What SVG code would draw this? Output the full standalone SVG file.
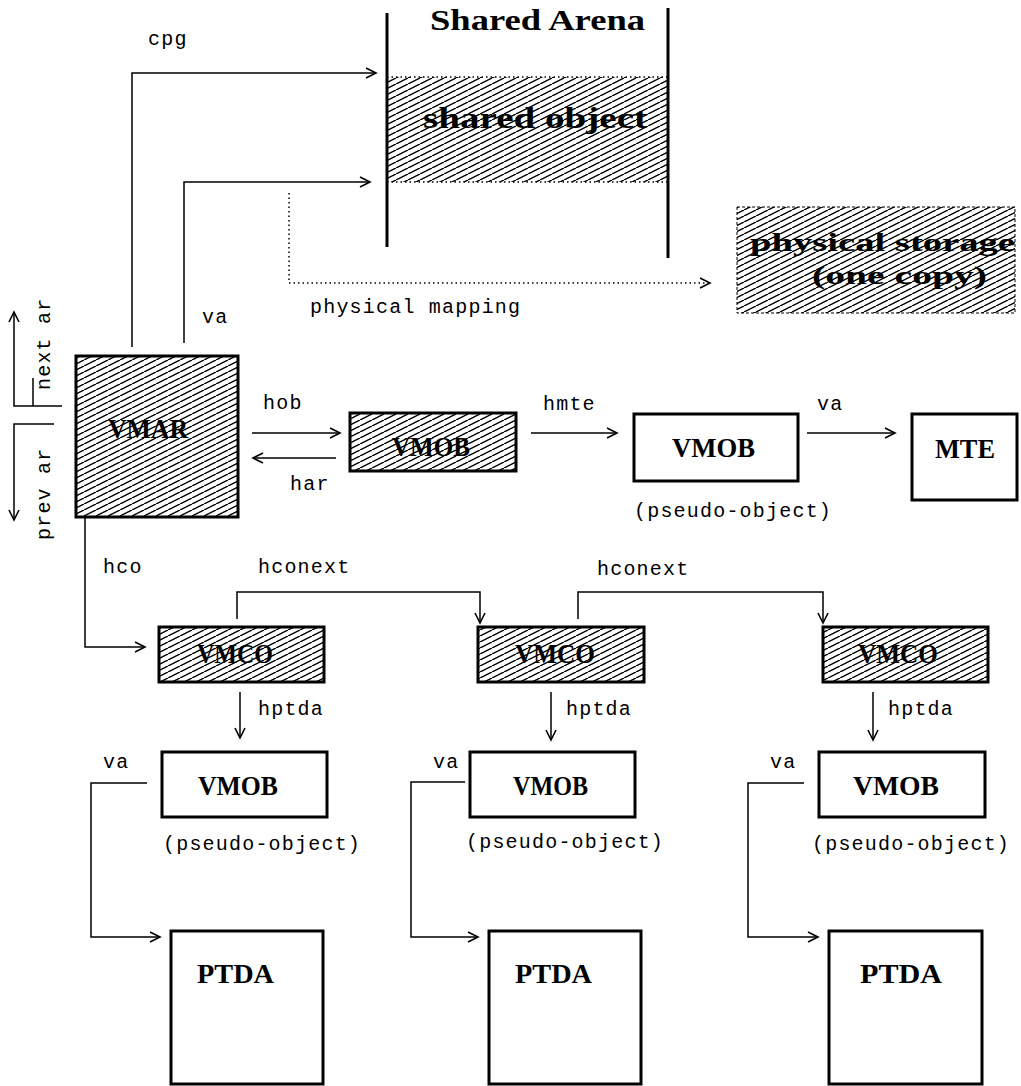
<svg xmlns="http://www.w3.org/2000/svg" width="1021" height="1086" viewBox="0 0 1021 1086">
  <style>
    .box { fill: #fff; stroke: #000; stroke-width: 3; }
    .hbox { fill: url(#hatch); stroke: #000; stroke-width: 3; }
    .title { font-family: "Liberation Serif", "DejaVu Serif", serif; font-weight: bold; font-size: 27px; fill: #000; }
    .big { font-family: "Liberation Serif", "DejaVu Serif", serif; font-weight: bold; font-size: 30px; fill: #000; }
    .store { font-family: "Liberation Serif", "DejaVu Serif", serif; font-weight: bold; font-size: 25px; fill: #000; }
    .lbl { font-family: "Liberation Mono", "Courier New", monospace; font-size: 20px; letter-spacing: 1.2px; fill: #000; }
    .wire { fill: none; stroke: #000; stroke-width: 1.5; marker-end: url(#arrow); }
    .plain { fill: none; stroke: #000; stroke-width: 1.5; }
    .dots { fill: none; stroke: #000; stroke-width: 1.5; stroke-dasharray: 1.5 3; }
  </style>
  <defs>
    <pattern id="hatch" patternUnits="userSpaceOnUse" width="12" height="6">
      <rect width="12" height="6" fill="#fff"/>
      <path d="M0,6 L12,0 M-12,6 L0,0 M12,6 L24,0" stroke="#000" stroke-width="1.4"/>
    </pattern>
    <marker id="arrow" markerUnits="userSpaceOnUse" markerWidth="14" markerHeight="14" refX="11" refY="6" orient="auto">
      <path d="M1,1 L11,6 L1,11" fill="none" stroke="#000" stroke-width="1.6"/>
    </marker>
  </defs>
  <rect width="1021" height="1086" fill="#fff"/>

  <!-- shared arena -->
  <g id="shared-arena">
    <rect x="387" y="77" width="281" height="105" fill="url(#hatch)"/>
    <line x1="387" y1="77" x2="668" y2="77" class="dots"/>
    <line x1="387" y1="182" x2="668" y2="182" class="dots"/>
    <line x1="387" y1="13" x2="387" y2="247" stroke="#000" stroke-width="3"/>
    <line x1="668" y1="8" x2="668" y2="258" stroke="#000" stroke-width="3"/>
    <text x="430" y="30" class="big" textLength="215" lengthAdjust="spacingAndGlyphs">Shared Arena</text>
    <text x="423" y="128" class="big" textLength="224" lengthAdjust="spacingAndGlyphs">shared object</text>
  </g>

  <g id="physical-storage">
    <rect x="737" y="207" width="278" height="106" fill="url(#hatch)" stroke="#000" stroke-width="1" stroke-dasharray="3 2"/>
    <text x="750" y="251" class="store" textLength="265" lengthAdjust="spacingAndGlyphs">physical storage</text>
    <text x="812" y="284" class="store" textLength="175" lengthAdjust="spacingAndGlyphs">(one copy)</text>
  </g>

  <g id="vmar">
    <rect x="76" y="356" width="162" height="161" class="hbox"/>
    <text x="108" y="438" class="title" textLength="80" lengthAdjust="spacingAndGlyphs">VMAR</text>
  </g>

  <g id="vmob-shared">
    <rect x="350" y="413" width="166" height="58" class="hbox"/>
    <text x="392" y="456" class="title" textLength="78" lengthAdjust="spacingAndGlyphs">VMOB</text>
  </g>

  <g id="vmob-pseudo-top">
    <rect x="634" y="414" width="164" height="67" class="box"/>
    <text x="672" y="457" class="title" textLength="83" lengthAdjust="spacingAndGlyphs">VMOB</text>
  </g>

  <g id="mte">
    <rect x="912" y="414" width="105" height="86" class="box"/>
    <text x="935" y="458" class="title" textLength="60" lengthAdjust="spacingAndGlyphs">MTE</text>
  </g>

  <g id="vmco-1">
    <rect x="159" y="627" width="165" height="55" class="hbox"/>
    <text x="197" y="663" class="title" textLength="76" lengthAdjust="spacingAndGlyphs">VMCO</text>
  </g>
  <g id="vmco-2">
    <rect x="478" y="627" width="166" height="55" class="hbox"/>
    <text x="515" y="663" class="title" textLength="80" lengthAdjust="spacingAndGlyphs">VMCO</text>
  </g>
  <g id="vmco-3">
    <rect x="823" y="627" width="165" height="55" class="hbox"/>
    <text x="858" y="663" class="title" textLength="80" lengthAdjust="spacingAndGlyphs">VMCO</text>
  </g>

  <g id="vmob-1">
    <rect x="162" y="752" width="165" height="65" class="box"/>
    <text x="198" y="795" class="title" textLength="80" lengthAdjust="spacingAndGlyphs">VMOB</text>
  </g>
  <g id="vmob-2">
    <rect x="470" y="752" width="165" height="65" class="box"/>
    <text x="513" y="795" class="title" textLength="75" lengthAdjust="spacingAndGlyphs">VMOB</text>
  </g>
  <g id="vmob-3">
    <rect x="819" y="752" width="166" height="65" class="box"/>
    <text x="853" y="795" class="title" textLength="86" lengthAdjust="spacingAndGlyphs">VMOB</text>
  </g>

  <g id="ptda-1">
    <rect x="171" y="931" width="152" height="153" class="box"/>
    <text x="197" y="983" class="title" textLength="77" lengthAdjust="spacingAndGlyphs">PTDA</text>
  </g>
  <g id="ptda-2">
    <rect x="489" y="931" width="152" height="153" class="box"/>
    <text x="515" y="983" class="title" textLength="77" lengthAdjust="spacingAndGlyphs">PTDA</text>
  </g>
  <g id="ptda-3">
    <rect x="829" y="931" width="153" height="153" class="box"/>
    <text x="860" y="983" class="title" textLength="82" lengthAdjust="spacingAndGlyphs">PTDA</text>
  </g>

  <!-- links between objects -->
  <g id="connectors">
    <path d="M132,347 V73 H376" class="wire"/>
    <path d="M184,343 V182 H370" class="wire"/>
    <path d="M289,193 V283 H710" class="dots" marker-end="url(#arrow)"/>
    <path d="M62,406 H14 V312" class="wire"/>
    <line x1="33" y1="378" x2="33" y2="406" class="plain"/>
    <path d="M54,424 H14 V520" class="wire"/>
    <path d="M252,433 H340" class="wire"/>
    <path d="M336,458 H253" class="wire"/>
    <path d="M531,433 H617" class="wire"/>
    <path d="M807,433 H895" class="wire"/>
    <path d="M85,518 V647 H145" class="wire"/>
    <path d="M237,619 V592 H480 V623" class="wire"/>
    <path d="M578,619 V592 H823 V623" class="wire"/>
    <path d="M240,692 V738" class="wire"/>
    <path d="M551,692 V740" class="wire"/>
    <path d="M873,692 V740" class="wire"/>
    <path d="M147,783 H91 V937 H160" class="wire"/>
    <path d="M465,782 H411 V937 H478" class="wire"/>
    <path d="M804,783 H748 V937 H818" class="wire"/>
  </g>

  <!-- link labels -->
  <g id="labels">
    <text x="148" y="45" class="lbl">cpg</text>
    <text x="202" y="323" class="lbl">va</text>
    <text x="310" y="313" class="lbl">physical mapping</text>
    <text transform="translate(50,390) rotate(-90)" class="lbl">next ar</text>
    <text transform="translate(50,540) rotate(-90)" class="lbl">prev ar</text>
    <text x="263" y="409" class="lbl">hob</text>
    <text x="290" y="490" class="lbl">har</text>
    <text x="543" y="410" class="lbl">hmte</text>
    <text x="817" y="410" class="lbl">va</text>
    <text x="634" y="517" class="lbl">(pseudo-object)</text>
    <text x="103" y="573" class="lbl">hco</text>
    <text x="258" y="573" class="lbl">hconext</text>
    <text x="597" y="575" class="lbl">hconext</text>
    <text x="258" y="715" class="lbl">hptda</text>
    <text x="566" y="715" class="lbl">hptda</text>
    <text x="888" y="715" class="lbl">hptda</text>
    <text x="103" y="768" class="lbl">va</text>
    <text x="433" y="768" class="lbl">va</text>
    <text x="770" y="768" class="lbl">va</text>
    <text x="163" y="850" class="lbl">(pseudo-object)</text>
    <text x="466" y="848" class="lbl">(pseudo-object)</text>
    <text x="812" y="850" class="lbl">(pseudo-object)</text>
  </g>
</svg>
